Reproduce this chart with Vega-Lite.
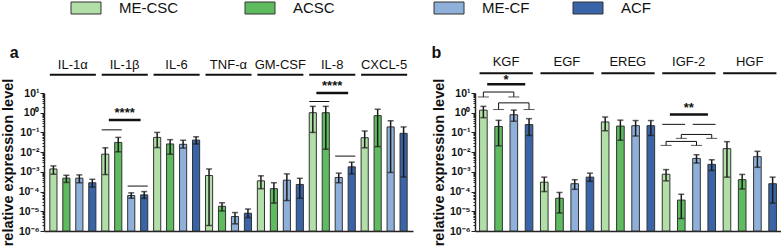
{
  "$schema": "https://vega.github.io/schema/vega-lite/v6.json",
  "padding": {"left": 0, "top": 0, "right": 0, "bottom": 0},
  "config": {
    "view": {"stroke": null},
    "font": "Liberation Sans",
    "axis": {"domainColor": "#222", "domainWidth": 1.5, "tickColor": "#222", "labelColor": "#111", "titleColor": "#111", "labelFont": "Liberation Sans", "titleFont": "Liberation Sans", "grid": false},
    "legend": {"labelFont": "Liberation Sans"}
  },
  "datasets": {
    "barsA": [
      {"g": "IL-1α", "c": "ME-CSC", "v": 0.0014, "lo": 0.00076, "hi": 0.002},
      {"g": "IL-1α", "c": "ACSC", "v": 0.00048, "lo": 0.00029, "hi": 0.00067},
      {"g": "IL-1α", "c": "ME-CF", "v": 0.00048, "lo": 0.00028, "hi": 0.0007},
      {"g": "IL-1α", "c": "ACF", "v": 0.00028, "lo": 0.00017, "hi": 0.00042},
      {"g": "IL-1β", "c": "ME-CSC", "v": 0.0079, "lo": 0.00073, "hi": 0.0166},
      {"g": "IL-1β", "c": "ACSC", "v": 0.031, "lo": 0.0104, "hi": 0.056},
      {"g": "IL-1β", "c": "ME-CF", "v": 0.000063, "lo": 0.000046, "hi": 0.000086},
      {"g": "IL-1β", "c": "ACF", "v": 0.000068, "lo": 0.000045, "hi": 0.0001},
      {"g": "IL-6", "c": "ME-CSC", "v": 0.056, "lo": 0.017, "hi": 0.1},
      {"g": "IL-6", "c": "ACSC", "v": 0.026, "lo": 0.0079, "hi": 0.043},
      {"g": "IL-6", "c": "ME-CF", "v": 0.025, "lo": 0.016, "hi": 0.04},
      {"g": "IL-6", "c": "ACF", "v": 0.041, "lo": 0.026, "hi": 0.06},
      {"g": "TNF-α", "c": "ME-CSC", "v": 0.00065, "lo": 0.0000019, "hi": 0.0014},
      {"g": "TNF-α", "c": "ACSC", "v": 0.000018, "lo": 0.0000104, "hi": 0.000027},
      {"g": "TNF-α", "c": "ME-CF", "v": 0.0000054, "lo": 0.0000023, "hi": 0.0000086},
      {"g": "TNF-α", "c": "ACF", "v": 0.000008, "lo": 0.0000048, "hi": 0.000013},
      {"g": "GM-CSF", "c": "ME-CSC", "v": 0.00035, "lo": 0.00014, "hi": 0.00063},
      {"g": "GM-CSF", "c": "ACSC", "v": 0.00014, "lo": 0.000026, "hi": 0.00028},
      {"g": "GM-CSF", "c": "ME-CF", "v": 0.00038, "lo": 0.000035, "hi": 0.00079},
      {"g": "GM-CSF", "c": "ACF", "v": 0.00023, "lo": 0.000046, "hi": 0.00047},
      {"g": "IL-8", "c": "ME-CSC", "v": 1.0, "lo": 0.1, "hi": 2.1},
      {"g": "IL-8", "c": "ACSC", "v": 1.0, "lo": 0.014, "hi": 2.1},
      {"g": "IL-8", "c": "ME-CF", "v": 0.00052, "lo": 0.00028, "hi": 0.00086},
      {"g": "IL-8", "c": "ACF", "v": 0.0018, "lo": 0.00079, "hi": 0.0031},
      {"g": "CXCL-5", "c": "ME-CSC", "v": 0.054, "lo": 0.0166, "hi": 0.118},
      {"g": "CXCL-5", "c": "ACSC", "v": 0.71, "lo": 0.019, "hi": 1.5},
      {"g": "CXCL-5", "c": "ME-CF", "v": 0.19, "lo": 0.00093, "hi": 0.39},
      {"g": "CXCL-5", "c": "ACF", "v": 0.09, "lo": 0.00055, "hi": 0.19}
    ],
    "barsB": [
      {"g": "KGF", "c": "ME-CSC", "v": 1.35, "lo": 0.56, "hi": 2.1},
      {"g": "KGF", "c": "ACSC", "v": 0.2, "lo": 0.021, "hi": 0.41},
      {"g": "KGF", "c": "ME-CF", "v": 0.79, "lo": 0.37, "hi": 1.36},
      {"g": "KGF", "c": "ACF", "v": 0.25, "lo": 0.07, "hi": 0.5},
      {"g": "EGF", "c": "ME-CSC", "v": 0.0003, "lo": 0.0001, "hi": 0.00054},
      {"g": "EGF", "c": "ACSC", "v": 0.000046, "lo": 0.0000082, "hi": 0.00009},
      {"g": "EGF", "c": "ME-CF", "v": 0.00025, "lo": 0.00013, "hi": 0.0004},
      {"g": "EGF", "c": "ACF", "v": 0.00054, "lo": 0.00033, "hi": 0.00086},
      {"g": "EREG", "c": "ME-CSC", "v": 0.34, "lo": 0.12, "hi": 0.6},
      {"g": "EREG", "c": "ACSC", "v": 0.21, "lo": 0.04, "hi": 0.42},
      {"g": "EREG", "c": "ME-CF", "v": 0.22, "lo": 0.066, "hi": 0.4},
      {"g": "EREG", "c": "ACF", "v": 0.22, "lo": 0.07, "hi": 0.4},
      {"g": "IGF-2", "c": "ME-CSC", "v": 0.00076, "lo": 0.00035, "hi": 0.0013},
      {"g": "IGF-2", "c": "ACSC", "v": 0.000037, "lo": 0.0000043, "hi": 0.000073},
      {"g": "IGF-2", "c": "ME-CF", "v": 0.0048, "lo": 0.0028, "hi": 0.0074},
      {"g": "IGF-2", "c": "ACF", "v": 0.0024, "lo": 0.00117, "hi": 0.0041},
      {"g": "HGF", "c": "ME-CSC", "v": 0.015, "lo": 0.00054, "hi": 0.034},
      {"g": "HGF", "c": "ACSC", "v": 0.0004, "lo": 0.000135, "hi": 0.00074},
      {"g": "HGF", "c": "ME-CF", "v": 0.0059, "lo": 0.0017, "hi": 0.011},
      {"g": "HGF", "c": "ACF", "v": 0.00025, "lo": 0.000026, "hi": 0.00054}
    ],
    "hdrA": [
      {"g": "IL-1α", "first": "IL-1α|ME-CSC", "last": "IL-1α|ACF", "mid": "IL-1α|ME-CF"},
      {"g": "IL-1β", "first": "IL-1β|ME-CSC", "last": "IL-1β|ACF", "mid": "IL-1β|ME-CF"},
      {"g": "IL-6", "first": "IL-6|ME-CSC", "last": "IL-6|ACF", "mid": "IL-6|ME-CF"},
      {"g": "TNF-α", "first": "TNF-α|ME-CSC", "last": "TNF-α|ACF", "mid": "TNF-α|ME-CF"},
      {"g": "GM-CSF", "first": "GM-CSF|ME-CSC", "last": "GM-CSF|ACF", "mid": "GM-CSF|ME-CF"},
      {"g": "IL-8", "first": "IL-8|ME-CSC", "last": "IL-8|ACF", "mid": "IL-8|ME-CF"},
      {"g": "CXCL-5", "first": "CXCL-5|ME-CSC", "last": "CXCL-5|ACF", "mid": "CXCL-5|ME-CF"}
    ],
    "hdrB": [
      {"g": "KGF", "first": "KGF|ME-CSC", "last": "KGF|ACF", "mid": "KGF|ME-CF"},
      {"g": "EGF", "first": "EGF|ME-CSC", "last": "EGF|ACF", "mid": "EGF|ME-CF"},
      {"g": "EREG", "first": "EREG|ME-CSC", "last": "EREG|ACF", "mid": "EREG|ME-CF"},
      {"g": "IGF-2", "first": "IGF-2|ME-CSC", "last": "IGF-2|ACF", "mid": "IGF-2|ME-CF"},
      {"g": "HGF", "first": "HGF|ME-CSC", "last": "HGF|ACF", "mid": "HGF|ME-CF"}
    ],
    "pairsA": [
      {"a": "IL-1β|ME-CSC", "b": "IL-1β|ACSC", "y": 0.135},
      {"a": "IL-1β|ME-CF", "b": "IL-1β|ACF", "y": 0.00019},
      {"a": "IL-8|ME-CSC", "b": "IL-8|ACSC", "y": 3.7},
      {"a": "IL-8|ME-CF", "b": "IL-8|ACF", "y": 0.0063}
    ],
    "thickA": [
      {"a": "IL-1β|ME-CSC", "b": "IL-1β|ACF", "mid": "IL-1β|ME-CF", "y": 0.43, "s": 1.0, "star": "****"},
      {"a": "IL-8|ME-CSC", "b": "IL-8|ACF", "mid": "IL-8|ME-CF", "y": 10, "s": 22, "star": "****"}
    ],
    "pairsB": [
      {"a": "IGF-2|ME-CSC", "b": "IGF-2|ACSC", "y": 0.257},
      {"a": "IGF-2|ME-CF", "b": "IGF-2|ACF", "y": 0.257}
    ],
    "thickB": [
      {"a": "KGF|ME-CSC", "b": "KGF|ACF", "mid": "KGF|ME-CF", "y": 28, "s": 47, "star": "*"},
      {"a": "IGF-2|ME-CSC", "b": "IGF-2|ACF", "mid": "IGF-2|ME-CF", "y": 0.81, "s": 1.8, "star": "**"}
    ],
    "bracketsB": [
      {"a": "KGF|ME-CSC", "b": "KGF|ME-CF", "top": 11.2, "cap": 6.3},
      {"a": "KGF|ACSC", "b": "KGF|ACF", "top": 3.16, "cap": 1.45},
      {"a": "IGF-2|ACSC", "b": "IGF-2|ACF", "top": 0.079, "cap": 0.05},
      {"a": "IGF-2|ME-CSC", "b": "IGF-2|ME-CF", "top": 0.035, "cap": 0.022}
    ],
    "one": [{}]
  },
  "resolve": {"scale": {"fill": "shared"}, "legend": {"fill": "independent"}},
  "spacing": 18,
  "hconcat": [
    {
      "width": 369,
      "height": 138,
      "layer": [
        {
          "data": {"name": "barsA"},
          "transform": [{"calculate": "datum.g + '|' + datum.c", "as": "k"}],
          "mark": {"type": "bar", "stroke": "#333", "strokeWidth": 1},
          "encoding": {
            "x": {"field": "k", "type": "nominal",
              "scale": {"domain": ["IL-1α|ME-CSC","IL-1α|ACSC","IL-1α|ME-CF","IL-1α|ACF","IL-1β|ME-CSC","IL-1β|ACSC","IL-1β|ME-CF","IL-1β|ACF","IL-6|ME-CSC","IL-6|ACSC","IL-6|ME-CF","IL-6|ACF","TNF-α|ME-CSC","TNF-α|ACSC","TNF-α|ME-CF","TNF-α|ACF","GM-CSF|ME-CSC","GM-CSF|ACSC","GM-CSF|ME-CF","GM-CSF|ACF","IL-8|ME-CSC","IL-8|ACSC","IL-8|ME-CF","IL-8|ACF","CXCL-5|ME-CSC","CXCL-5|ACSC","CXCL-5|ME-CF","CXCL-5|ACF"], "paddingInner": 0.45, "paddingOuter": 0.45},
              "axis": {"labels": false, "ticks": false, "title": null}},
            "y": {"field": "v", "type": "quantitative",
              "scale": {"type": "log", "domain": [1e-6, 10], "nice": false},
              "axis": {
                "values": [1e-6,2e-6,3e-6,4e-6,5e-6,6e-6,7e-6,8e-6,9e-6,1e-5,2e-5,3e-5,4e-5,5e-5,6e-5,7e-5,8e-5,9e-5,1e-4,2e-4,3e-4,4e-4,5e-4,6e-4,7e-4,8e-4,9e-4,1e-3,2e-3,3e-3,4e-3,5e-3,6e-3,7e-3,8e-3,9e-3,0.01,0.02,0.03,0.04,0.05,0.06,0.07,0.08,0.09,0.1,0.2,0.3,0.4,0.5,0.6,0.7,0.8,0.9,1,2,3,4,5,6,7,8,9,10],
                "labelExpr": "abs(log(datum.value)/LN10 - round(log(datum.value)/LN10)) < 0.01 ? '10' + ['⁻⁶','⁻⁵','⁻⁴','⁻³','⁻²','⁻¹','⁰','¹'][round(log(datum.value)/LN10)+6] : ''",
                "labelOverlap": false, "labelFontSize": 10.5, "labelFontWeight": "bold", "labelPadding": 1,
                "tickSize": {"condition": {"test": "abs(log(datum.value)/LN10 - round(log(datum.value)/LN10)) < 0.01", "value": 4}, "value": 2},
                "tickWidth": 1,
                "title": "relative expression level", "titleFontSize": 14.5, "titleFontWeight": "bold", "titlePadding": 3}},
            "y2": {"datum": 1e-6},
            "fill": {"field": "c", "type": "nominal",
              "scale": {"domain": ["ME-CSC", "ACSC", "ME-CF", "ACF"], "range": ["#b2dea8", "#5fbb5f", "#8fb0da", "#3a64a8"]},
              "legend": {"values": ["ME-CSC", "ACSC"], "orient": "none", "legendX": 34, "legendY": -93, "direction": "horizontal", "title": null, "padding": 0,
                "symbolType": "M-2,-0.8H2V0.8H-2Z", "symbolSize": 225, "symbolStrokeColor": "#333", "symbolStrokeWidth": 1,
                "labelFontSize": 15, "labelOffset": 25, "columnPadding": 64, "labelColor": "#111"}}
          }
        },
        {
          "data": {"name": "barsA"},
          "transform": [{"calculate": "datum.g + '|' + datum.c", "as": "k"}],
          "mark": {"type": "rule", "color": "#1a1a1a", "strokeWidth": 1.5},
          "encoding": {"x": {"field": "k", "type": "nominal"}, "y": {"field": "lo", "type": "quantitative"}, "y2": {"field": "hi"}}
        },
        {
          "data": {"name": "barsA"},
          "transform": [{"calculate": "datum.g + '|' + datum.c", "as": "k"}],
          "mark": {"type": "tick", "color": "#1a1a1a", "size": 6, "thickness": 1.5},
          "encoding": {"x": {"field": "k", "type": "nominal"}, "y": {"field": "lo", "type": "quantitative"}}
        },
        {
          "data": {"name": "barsA"},
          "transform": [{"calculate": "datum.g + '|' + datum.c", "as": "k"}],
          "mark": {"type": "tick", "color": "#1a1a1a", "size": 6, "thickness": 1.5},
          "encoding": {"x": {"field": "k", "type": "nominal"}, "y": {"field": "hi", "type": "quantitative"}}
        },
        {
          "data": {"name": "hdrA"},
          "mark": {"type": "rule", "color": "#111", "strokeWidth": 2},
          "encoding": {"x": {"field": "first", "type": "nominal", "bandPosition": 0}, "x2": {"field": "last", "bandPosition": 1}, "y": {"datum": 85, "type": "quantitative"}}
        },
        {
          "data": {"name": "hdrA"},
          "mark": {"type": "text", "fontSize": 13, "dx": -3, "baseline": "middle", "color": "#111"},
          "encoding": {"x": {"field": "mid", "type": "nominal", "bandPosition": 0}, "y": {"datum": 275, "type": "quantitative"}, "text": {"field": "g"}}
        },
        {
          "data": {"name": "pairsA"},
          "mark": {"type": "rule", "color": "#111", "strokeWidth": 1},
          "encoding": {"x": {"field": "a", "type": "nominal", "bandPosition": 0}, "x2": {"field": "b", "bandPosition": 1}, "y": {"field": "y", "type": "quantitative"}}
        },
        {
          "data": {"name": "thickA"},
          "mark": {"type": "rule", "color": "#111", "strokeWidth": 2.5},
          "encoding": {"x": {"field": "a", "type": "nominal", "bandPosition": 1}, "x2": {"field": "b", "bandPosition": 0}, "y": {"field": "y", "type": "quantitative"}}
        },
        {
          "data": {"name": "thickA"},
          "mark": {"type": "text", "fontSize": 13, "fontWeight": "bold", "dx": -3, "baseline": "middle", "color": "#111"},
          "encoding": {"x": {"field": "mid", "type": "nominal", "bandPosition": 0}, "y": {"field": "s", "type": "quantitative"}, "text": {"field": "star"}}
        },
        {
          "data": {"name": "one"},
          "mark": {"type": "text", "text": "a", "fontSize": 16, "fontWeight": "bold", "dx": -40, "align": "left", "baseline": "alphabetic", "color": "#111"},
          "encoding": {"x": {"datum": "IL-1α|ME-CSC", "type": "nominal", "bandPosition": 0}, "y": {"datum": 620, "type": "quantitative"}}
        }
      ]
    },
    {
      "width": 306,
      "height": 138,
      "layer": [
        {
          "data": {"name": "barsB"},
          "transform": [{"calculate": "datum.g + '|' + datum.c", "as": "k"}],
          "mark": {"type": "bar", "stroke": "#333", "strokeWidth": 1},
          "encoding": {
            "x": {"field": "k", "type": "nominal",
              "scale": {"domain": ["KGF|ME-CSC","KGF|ACSC","KGF|ME-CF","KGF|ACF","EGF|ME-CSC","EGF|ACSC","EGF|ME-CF","EGF|ACF","EREG|ME-CSC","EREG|ACSC","EREG|ME-CF","EREG|ACF","IGF-2|ME-CSC","IGF-2|ACSC","IGF-2|ME-CF","IGF-2|ACF","HGF|ME-CSC","HGF|ACSC","HGF|ME-CF","HGF|ACF"], "paddingInner": 0.5, "paddingOuter": 0.3},
              "axis": {"labels": false, "ticks": false, "title": null}},
            "y": {"field": "v", "type": "quantitative",
              "scale": {"type": "log", "domain": [1e-6, 10], "nice": false},
              "axis": {
                "values": [1e-6,2e-6,3e-6,4e-6,5e-6,6e-6,7e-6,8e-6,9e-6,1e-5,2e-5,3e-5,4e-5,5e-5,6e-5,7e-5,8e-5,9e-5,1e-4,2e-4,3e-4,4e-4,5e-4,6e-4,7e-4,8e-4,9e-4,1e-3,2e-3,3e-3,4e-3,5e-3,6e-3,7e-3,8e-3,9e-3,0.01,0.02,0.03,0.04,0.05,0.06,0.07,0.08,0.09,0.1,0.2,0.3,0.4,0.5,0.6,0.7,0.8,0.9,1,2,3,4,5,6,7,8,9,10],
                "labelExpr": "abs(log(datum.value)/LN10 - round(log(datum.value)/LN10)) < 0.01 ? '10' + ['⁻⁶','⁻⁵','⁻⁴','⁻³','⁻²','⁻¹','⁰','¹'][round(log(datum.value)/LN10)+6] : ''",
                "labelOverlap": false, "labelFontSize": 10.5, "labelFontWeight": "bold", "labelPadding": 1,
                "tickSize": {"condition": {"test": "abs(log(datum.value)/LN10 - round(log(datum.value)/LN10)) < 0.01", "value": 4}, "value": 2},
                "tickWidth": 1,
                "title": "relative expression level", "titleFontSize": 14.5, "titleFontWeight": "bold", "titlePadding": 3}},
            "y2": {"datum": 1e-6},
            "fill": {"field": "c", "type": "nominal",
              "scale": {"domain": ["ME-CSC", "ACSC", "ME-CF", "ACF"], "range": ["#b2dea8", "#5fbb5f", "#8fb0da", "#3a64a8"]},
              "legend": {"values": ["ME-CF", "ACF"], "orient": "none", "legendX": -34, "legendY": -93, "direction": "horizontal", "title": null, "padding": 0,
                "symbolType": "M-2,-0.8H2V0.8H-2Z", "symbolSize": 225, "symbolStrokeColor": "#333", "symbolStrokeWidth": 1,
                "labelFontSize": 15, "labelOffset": 25, "columnPadding": 41, "labelColor": "#111"}}
          }
        },
        {
          "data": {"name": "barsB"},
          "transform": [{"calculate": "datum.g + '|' + datum.c", "as": "k"}],
          "mark": {"type": "rule", "color": "#1a1a1a", "strokeWidth": 1.5},
          "encoding": {"x": {"field": "k", "type": "nominal"}, "y": {"field": "lo", "type": "quantitative"}, "y2": {"field": "hi"}}
        },
        {
          "data": {"name": "barsB"},
          "transform": [{"calculate": "datum.g + '|' + datum.c", "as": "k"}],
          "mark": {"type": "tick", "color": "#1a1a1a", "size": 6, "thickness": 1.5},
          "encoding": {"x": {"field": "k", "type": "nominal"}, "y": {"field": "lo", "type": "quantitative"}}
        },
        {
          "data": {"name": "barsB"},
          "transform": [{"calculate": "datum.g + '|' + datum.c", "as": "k"}],
          "mark": {"type": "tick", "color": "#1a1a1a", "size": 6, "thickness": 1.5},
          "encoding": {"x": {"field": "k", "type": "nominal"}, "y": {"field": "hi", "type": "quantitative"}}
        },
        {
          "data": {"name": "hdrB"},
          "mark": {"type": "rule", "color": "#111", "strokeWidth": 2},
          "encoding": {"x": {"field": "first", "type": "nominal", "bandPosition": 0}, "x2": {"field": "last", "bandPosition": 1}, "y": {"datum": 100, "type": "quantitative"}}
        },
        {
          "data": {"name": "hdrB"},
          "mark": {"type": "text", "fontSize": 13, "dx": -4, "baseline": "middle", "color": "#111"},
          "encoding": {"x": {"field": "mid", "type": "nominal", "bandPosition": 0}, "y": {"datum": 355, "type": "quantitative"}, "text": {"field": "g"}}
        },
        {
          "data": {"name": "pairsB"},
          "mark": {"type": "rule", "color": "#111", "strokeWidth": 1},
          "encoding": {"x": {"field": "a", "type": "nominal", "bandPosition": 0}, "x2": {"field": "b", "bandPosition": 1}, "y": {"field": "y", "type": "quantitative"}}
        },
        {
          "data": {"name": "thickB"},
          "mark": {"type": "rule", "color": "#111", "strokeWidth": 2.5},
          "encoding": {"x": {"field": "a", "type": "nominal", "bandPosition": 1}, "x2": {"field": "b", "bandPosition": 0}, "y": {"field": "y", "type": "quantitative"}}
        },
        {
          "data": {"name": "thickB"},
          "mark": {"type": "text", "fontSize": 13, "fontWeight": "bold", "dx": -4, "baseline": "middle", "color": "#111"},
          "encoding": {"x": {"field": "mid", "type": "nominal", "bandPosition": 0}, "y": {"field": "s", "type": "quantitative"}, "text": {"field": "star"}}
        },
        {
          "data": {"name": "bracketsB"},
          "mark": {"type": "rule", "color": "#111", "strokeWidth": 1},
          "encoding": {"x": {"field": "a", "type": "nominal"}, "x2": {"field": "b"}, "y": {"field": "top", "type": "quantitative"}}
        },
        {
          "data": {"name": "bracketsB"},
          "mark": {"type": "rule", "color": "#111", "strokeWidth": 1},
          "encoding": {"x": {"field": "a", "type": "nominal"}, "y": {"field": "top", "type": "quantitative"}, "y2": {"field": "cap"}}
        },
        {
          "data": {"name": "bracketsB"},
          "mark": {"type": "rule", "color": "#111", "strokeWidth": 1},
          "encoding": {"x": {"field": "b", "type": "nominal"}, "y": {"field": "top", "type": "quantitative"}, "y2": {"field": "cap"}}
        },
        {
          "data": {"name": "bracketsB"},
          "mark": {"type": "tick", "color": "#111", "size": 11, "thickness": 1},
          "encoding": {"x": {"field": "a", "type": "nominal"}, "y": {"field": "cap", "type": "quantitative"}}
        },
        {
          "data": {"name": "bracketsB"},
          "mark": {"type": "tick", "color": "#111", "size": 11, "thickness": 1},
          "encoding": {"x": {"field": "b", "type": "nominal"}, "y": {"field": "cap", "type": "quantitative"}}
        },
        {
          "data": {"name": "one"},
          "mark": {"type": "text", "text": "b", "fontSize": 16, "fontWeight": "bold", "dx": -48, "align": "left", "baseline": "alphabetic", "color": "#111"},
          "encoding": {"x": {"datum": "KGF|ME-CSC", "type": "nominal", "bandPosition": 0}, "y": {"datum": 590, "type": "quantitative"}}
        }
      ]
    }
  ]
}
